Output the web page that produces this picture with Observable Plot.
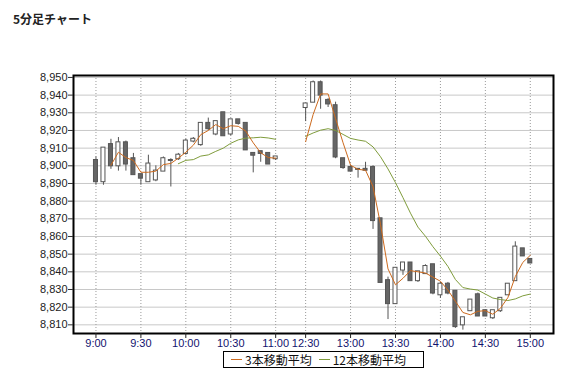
<!DOCTYPE html>
<html><head><meta charset="utf-8">
<script src="https://cdn.jsdelivr.net/npm/d3@7"></script>
<script src="https://cdn.jsdelivr.net/npm/@observablehq/plot@0.6"></script>
<style>
html,body{margin:0;padding:0;background:#fff;}
body{width:566px;height:373px;position:relative;overflow:hidden;font-family:"Liberation Sans",Arial,sans-serif;}
#title{position:absolute;left:13px;top:12px;font-weight:bold;font-size:12px;line-height:14px;font-family:"Noto Sans CJK JP",sans-serif;color:#222;}
#chart{position:absolute;left:0;top:0;}
#legend{position:absolute;left:223px;top:351px;width:201px;height:17px;border:1px solid #000;box-sizing:border-box;font-size:12px;line-height:15px;font-family:"Noto Sans CJK JP",sans-serif;color:#111;white-space:nowrap;display:flex;align-items:center;}
#legend .sw{display:block;width:11px;height:1px;flex:none;margin:0 3px 0 7px;}
</style></head>
<body>
<div id="title">5分足チャート</div>
<div id="chart"></div>
<div id="legend"></div>
<script>
// ---- data ----
const times = ["9:00","9:05","9:10","9:15","9:20","9:25","9:30","9:35","9:40","9:45","9:50","9:55",
  "10:00","10:05","10:10","10:15","10:20","10:25","10:30","10:35","10:40","10:45","10:50","10:55","11:00",
  "12:30","12:35","12:40","12:45","12:50","12:55","13:00","13:05","13:10","13:15","13:20","13:25",
  "13:30","13:35","13:40","13:45","13:50","13:55","14:00","14:05","14:10","14:15","14:20","14:25",
  "14:30","14:35","14:40","14:45","14:50","14:55","15:00"];
const open  = [8903,8891,8912,8900,8913,8904,8895,8891,8892,8897,8903,8904,
  8907,8914,8912,8924,8918,8930,8918,8926,8924,8907,8908,8907,8904,
  8933,8936,8947,8937,8934,8904,8899,8898,8898,8899,8870,8835,
  8822,8841,8845,8835,8839,8844,8827,8833,8829,8810,8818,8827,
  8818,8814,8818,8827,8835,8853,8847];
const high  = [8905,8910,8915,8916,8914,8907,8895,8906,8900,8905,8904,8907,
  8915,8916,8924,8927,8925,8930,8926,8926,8924,8907,8908,8907,8905,
  8935,8948,8948,8938,8936,8904,8900,8898,8902,8900,8870,8837,
  8842,8845,8845,8840,8844,8844,8834,8834,8829,8814,8824,8828,
  8818,8818,8825,8833,8857,8853,8847];
const low   = [8889,8889,8898,8897,8897,8895,8889,8891,8891,8897,8888,8903,
  8906,8913,8911,8920,8917,8917,8917,8923,8909,8896,8902,8901,8903,
  8925,8936,8932,8933,8904,8898,8897,8893,8897,8864,8834,8813,
  8822,8838,8835,8834,8839,8827,8825,8827,8808,8807,8818,8815,
  8815,8813,8817,8827,8835,8849,8845];
const close = [8891,8910,8900,8913,8901,8895,8893,8901,8897,8904,8903,8906,
  8914,8915,8924,8921,8925,8917,8926,8924,8909,8906,8907,8901,8905,
  8935,8947,8940,8935,8905,8899,8897,8898,8897.5,8869,8834,8822,
  8842,8845,8835,8840,8843,8828,8833,8828,8809,8814,8824,8815,
  8815,8818,8825,8833,8854,8849,8845];
const xTickLabels = ["9:00","9:30","10:00","10:30","11:00","12:30","13:00","13:30","14:00","14:30","15:00"];
const yTicks = [8810,8820,8830,8840,8850,8860,8870,8880,8890,8900,8910,8920,8930,8940,8950];
const seriesNames = ["3本移動平均","12本移動平均"];
const seriesColors = ["#cc6a1e","#7f9c3c"];
const windows = [3, 12];

// compressed session axis: morning 9:00-11:00, lunch gap, afternoon 12:30-15:00
const slot = t => { const [h, m] = t.split(":").map(Number); const mins = h * 60 + m;
  return mins < 720 ? (mins - 540) / 5 : (mins - 750) / 5 + 28; };
const pm = t => slot(t) >= 28;

const data = times.map((t, i) => ({t, x: slot(t), pm: pm(t), open: open[i], high: high[i], low: low[i], close: close[i]}));
const xTickPos = xTickLabels.map(slot);
const labelAt = new Map(xTickLabels.map(t => [slot(t), t]));

const maLine = (k, color, session) => Plot.line(data,
  Plot.filter(d => d.pm === session,
    Plot.windowY({k, anchor: "end", strict: true}, {x: "x", y: "close", stroke: color, strokeWidth: 1})));

const chart = Plot.plot({
  width: 566, height: 373,
  marginTop: 75, marginBottom: 40, marginLeft: 73, marginRight: 13,
  x: {type: "linear", domain: [-3, 61.1], label: null},
  y: {domain: [8805.1, 8951.1], label: null},
  color: {type: "identity"},
  style: {fontFamily: "'Liberation Sans', Arial, sans-serif", fontSize: "11px", background: "transparent"},
  marks: [
    Plot.ruleY(yTicks, {stroke: "#c8c8c8"}),
    Plot.ruleX(xTickPos, {stroke: "#9a9a9a", strokeDasharray: "1,2"}),
    Plot.ruleX(data, {x: "x", y1: "low", y2: "high", stroke: "#555"}),
    Plot.rect(data, {x1: "x", x2: "x", y1: "open", y2: "close",
      insetLeft: -2, insetRight: -2, insetTop: -0.5, insetBottom: -0.5,
      fill: d => d.close > d.open ? "#ffffff" : "#666666", stroke: "#555"}),
    maLine(windows[1], seriesColors[1], false),
    maLine(windows[1], seriesColors[1], true),
    maLine(windows[0], seriesColors[0], false),
    maLine(windows[0], seriesColors[0], true),
    Plot.frame({stroke: "#000", strokeWidth: 2}),
    Plot.axisY(yTicks, {tickSize: 5, tickPadding: 1, tickFormat: d3.format(","), fill: "#222", stroke: "#333", label: null}),
    Plot.axisX(xTickPos, {tickSize: 5, tickPadding: 1, tickFormat: d => labelAt.get(d), fill: "#12126e", stroke: "#222", label: null})
  ]
});
document.getElementById("chart").append(chart);

const lg = document.getElementById("legend");
seriesNames.forEach((name, i) => {
  const sw = document.createElement("span"); sw.className = "sw"; sw.style.background = seriesColors[i];
  const tx = document.createElement("span"); tx.textContent = name;
  lg.append(sw, tx);
});
</script>
</body></html>
